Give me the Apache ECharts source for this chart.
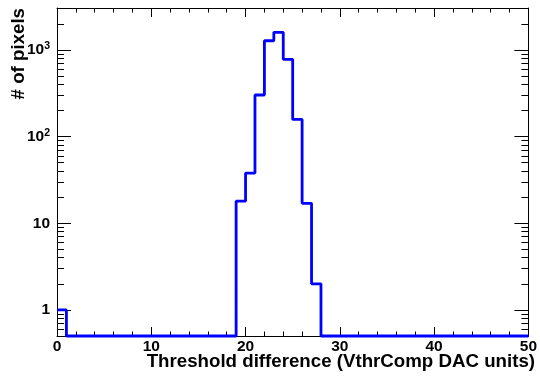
<!DOCTYPE html>
<html><head><meta charset="utf-8">
<script src="https://cdn.jsdelivr.net/npm/echarts@6/dist/echarts.min.js"></script>
<style>html,body{margin:0;padding:0;background:#fff}#c{width:540px;height:379px}</style>
</head><body><div id="c"></div>
<script>
// ---- data ----
const binLow = 0;
const binWidth = 1;
const counts = [
  1, 0, 0, 0, 0, 0, 0, 0, 0, 0,
  0, 0, 0, 0, 0, 0, 0, 0, 0, 18,
  38, 302, 1277, 1596, 779, 158, 17, 2, 0, 0,
  0, 0, 0, 0, 0, 0, 0, 0, 0, 0,
  0, 0, 0, 0, 0, 0, 0, 0, 0, 0
];
const xTickLabels = [0, 10, 20, 30, 40, 50];
const yMajorTicks = [1, 10, 100, 1000];
const yMinorTicks = [0.6, 0.7, 0.8, 0.9, 2, 3, 4, 5, 6, 7, 8, 9,
  20, 30, 40, 50, 60, 70, 80, 90, 200, 300, 400, 500, 600, 700, 800, 900, 2000, 3000];
const xTitle = 'Threshold difference (VthrComp DAC units)';
const yTitle = '# of pixels';

const yMin = 0.5, yMax = 3050;
const xMin = 0, xMax = 50;

// histogram outline points (zero bins drawn on the axis floor, as ROOT does)
const pts = counts.map((c, i) => [binLow + i * binWidth, Math.max(c, yMin)]);
pts.push([binLow + counts.length * binWidth, Math.max(counts[counts.length - 1], yMin)]);

const FONT = 'Liberation Sans';
const black = '#000';
const LBL = 15.5;

function xAxisDef(pos, showLabel) {
  return {
    type: 'value', position: pos, min: xMin, max: xMax, interval: 10,
    axisLine: { show: true, onZero: false, lineStyle: { color: black, width: 1 } },
    axisTick: { show: true, inside: true, length: 9, lineStyle: { color: black } },
    minorTick: { show: true, splitNumber: 5, length: 4.5, lineStyle: { color: black } },
    splitLine: { show: false },
    axisLabel: { show: showLabel, margin: 3, fontFamily: FONT, fontWeight: 'bold', fontSize: LBL, color: black,
      formatter: v => (xTickLabels.indexOf(v) >= 0 ? String(v) : '') },
  };
}
function yAxisDef(pos, ticks, len, showLabel, showLine) {
  return {
    type: 'log', logBase: 10, position: pos, min: yMin, max: yMax,
    axisLine: { show: showLine, onZero: false, lineStyle: { color: black, width: 1 } },
    axisTick: { show: true, inside: true, length: len, customValues: ticks, lineStyle: { color: black } },
    splitLine: { show: false },
    axisLabel: {
      show: showLabel, customValues: yMajorTicks, margin: 7,
      fontFamily: FONT, fontWeight: 'bold', fontSize: LBL, color: black,
      formatter: v => {
        const e = Math.round(Math.log10(v));
        if (e === 0) return '{a|1}';
        if (e === 1) return '{a|10}';
        return '{a|10}{s|' + e + '}';
      },
      rich: {
        a: { fontFamily: FONT, fontWeight: 'bold', fontSize: LBL, color: black },
        s: { fontFamily: FONT, fontWeight: 'bold', fontSize: 10.5, color: black, padding: [0, 0, 8, 0] }
      }
    }
  };
}

const chart = echarts.init(document.getElementById('c'), null, { renderer: 'canvas' });
chart.setOption({
  animation: false,
  backgroundColor: '#fff',
  grid: { left: 57, top: 8, right: 9.5, bottom: 43, containLabel: false },
  xAxis: [xAxisDef('bottom', true), xAxisDef('top', false)],
  yAxis: [
    yAxisDef('left', yMajorTicks, 14, true, true),
    yAxisDef('left', yMinorTicks, 7, false, false),
    yAxisDef('right', yMajorTicks, 14, false, true),
    yAxisDef('right', yMinorTicks, 7, false, false)
  ],
  series: [{
    type: 'line', step: 'end', xAxisIndex: 0, yAxisIndex: 0,
    data: pts, symbol: 'none', clip: false,
    lineStyle: { color: '#0000ff', width: 2.8 }
  }],
  graphic: [
    { type: 'text', right: 5, top: 352, style: { text: xTitle, fontFamily: FONT, fontWeight: 'bold', fontSize: 18.7, fill: black } },
    { type: 'text', x: 18.5, y: 8, rotation: Math.PI / 2,
      style: { text: yTitle, fontFamily: FONT, fontWeight: 'bold', fontSize: 18.7, fill: black, align: 'right', verticalAlign: 'middle' } }
  ]
});
</script></body></html>
